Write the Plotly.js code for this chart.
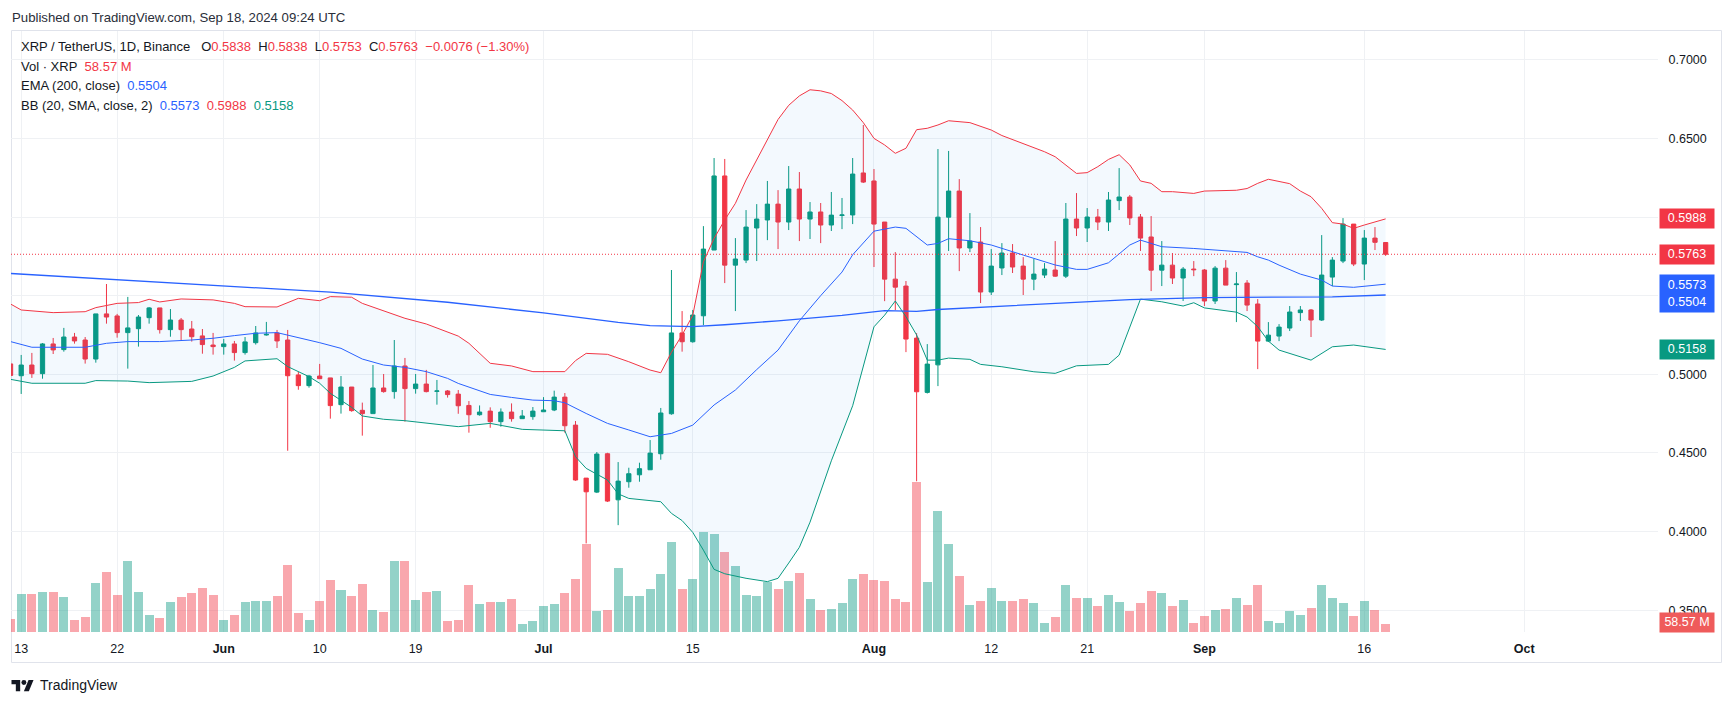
<!DOCTYPE html>
<html><head><meta charset="utf-8">
<script src="https://cdn.plot.ly/plotly-3.0.1.min.js"></script>
<style>html,body{margin:0;padding:0;background:#fff;}#chart{width:1734px;height:703px;}</style>
</head><body><div id="chart"></div>
<script>
// ---- data (XRP/USDT 1D, Binance; day 0 = 2024-05-12) ----
const startDate = '2024-05-12';
const opens = [0.5066,0.4991,0.5059,0.5004,0.5193,0.5157,0.5237,0.5218,0.5097,0.5384,
0.5371,0.5265,0.5290,0.5360,0.5422,0.5284,0.5345,0.5288,0.5244,0.5186,
0.5176,0.5193,0.5138,0.5201,0.5250,0.5263,0.5218,0.4996,0.4928,0.4989,
0.4977,0.4807,0.4919,0.4771,0.4750,0.4913,0.4890,0.5053,0.4909,0.4938,
0.4892,0.4894,0.4874,0.4802,0.4743,0.4766,0.4699,0.4760,0.4718,0.4731,
0.4762,0.4773,0.4855,0.4677,0.4340,0.4251,0.4495,0.4202,0.4317,0.4361,
0.4393,0.4495,0.4749,0.5263,0.5207,0.5372,0.5790,0.6261,0.5694,0.5726,
0.5930,0.5981,0.6082,0.5968,0.6178,0.5987,0.6032,0.5949,0.6010,0.6013,
0.6280,0.6229,0.5968,0.5605,0.5561,0.5230,0.4885,0.5060,0.5999,0.6165,
0.5803,0.5841,0.5523,0.5676,0.5771,0.5688,0.5605,0.5631,0.5663,0.5624,
0.5987,0.5930,0.6000,0.5968,0.6104,0.6127,0.6000,0.5873,0.5662,0.5694,
0.5612,0.5669,0.5663,0.5466,0.5675,0.5570,0.5580,0.5447,0.5211,0.5243,
0.5294,0.5392,0.5409,0.5345,0.5618,0.5720,0.5955,0.5701,0.5866,0.5838];
const highs = [0.5085,0.5123,0.5136,0.5199,0.5231,0.5295,0.5263,0.5237,0.5384,0.5574,
0.5384,0.5492,0.5377,0.5428,0.5422,0.5415,0.5358,0.5339,0.5288,0.5263,
0.5225,0.5212,0.5237,0.5307,0.5333,0.5282,0.5282,0.5015,0.4996,0.5066,
0.4977,0.4989,0.4919,0.4820,0.5059,0.5002,0.5218,0.5104,0.5002,0.5028,
0.4964,0.4900,0.4900,0.4830,0.4802,0.4790,0.4783,0.4815,0.4773,0.4792,
0.4855,0.4896,0.4881,0.4703,0.4340,0.4506,0.4501,0.4442,0.4406,0.4438,
0.4582,0.4786,0.5663,0.5402,0.5409,0.5942,0.6375,0.6369,0.5866,0.6044,
0.6082,0.6229,0.6171,0.6324,0.6286,0.6095,0.6089,0.6159,0.6121,0.6375,
0.6585,0.6305,0.5968,0.5777,0.5593,0.5262,0.5192,0.6432,0.6420,0.6241,
0.6025,0.5936,0.5796,0.5834,0.5828,0.5745,0.5733,0.5707,0.5847,0.6089,
0.6152,0.6057,0.6051,0.6159,0.6311,0.6140,0.6019,0.6006,0.5847,0.5771,
0.5682,0.5720,0.5669,0.5688,0.5726,0.5650,0.5599,0.5478,0.5332,0.5319,
0.5434,0.5434,0.5415,0.5885,0.5745,0.5993,0.5955,0.5917,0.5936,0.5838];
const lows = [0.4975,0.4875,0.4977,0.4972,0.5129,0.5144,0.5195,0.5068,0.5074,0.5322,
0.5233,0.5036,0.5176,0.5322,0.5259,0.5239,0.5218,0.5208,0.5131,0.5125,
0.5125,0.5087,0.5125,0.5189,0.5246,0.5167,0.4514,0.4902,0.4915,0.4970,
0.4718,0.4750,0.4762,0.4610,0.4750,0.4883,0.4845,0.4699,0.4877,0.4885,
0.4807,0.4852,0.4749,0.4629,0.4737,0.4660,0.4667,0.4699,0.4718,0.4711,
0.4762,0.4766,0.4629,0.4323,0.3925,0.4245,0.4188,0.4041,0.4279,0.4317,
0.4393,0.4457,0.4743,0.5144,0.5201,0.5313,0.5790,0.5580,0.5402,0.5707,
0.5720,0.5853,0.5796,0.5917,0.5847,0.5860,0.5834,0.5911,0.5923,0.5955,
0.6216,0.5682,0.5465,0.5408,0.5141,0.4320,0.4878,0.4925,0.5784,0.5656,
0.5777,0.5453,0.5504,0.5631,0.5644,0.5504,0.5535,0.5612,0.5620,0.5612,
0.5879,0.5841,0.5917,0.5911,0.6044,0.5949,0.5784,0.5529,0.5561,0.5574,
0.5466,0.5624,0.5434,0.5447,0.5567,0.5332,0.5402,0.5033,0.5205,0.5211,
0.5275,0.5339,0.5237,0.5339,0.5561,0.5707,0.5688,0.5599,0.5790,0.5753];
const closes = [0.4993,0.5059,0.5004,0.5193,0.5155,0.5237,0.5212,0.5097,0.5384,0.5364,
0.5265,0.5295,0.5364,0.5422,0.5284,0.5345,0.5284,0.5239,0.5189,0.5176,
0.5193,0.5138,0.5206,0.5263,0.5254,0.5212,0.4991,0.4928,0.4989,0.4972,
0.4801,0.4919,0.4769,0.4750,0.4913,0.4890,0.5053,0.4909,0.4938,0.4890,
0.4894,0.4871,0.4800,0.4743,0.4760,0.4699,0.4760,0.4718,0.4735,0.4766,
0.4773,0.4855,0.4673,0.4328,0.4253,0.4493,0.4194,0.4321,0.4368,0.4400,
0.4499,0.4754,0.5263,0.5207,0.5377,0.5796,0.6261,0.5694,0.5733,0.5936,
0.5987,0.6082,0.5968,0.6178,0.5987,0.6032,0.5949,0.6012,0.6013,0.6273,
0.6222,0.5955,0.5605,0.5554,0.5224,0.4889,0.5065,0.5999,0.6165,0.5803,
0.5847,0.5523,0.5688,0.5771,0.5682,0.5605,0.5637,0.5669,0.5624,0.5987,
0.5930,0.6000,0.5968,0.6108,0.6127,0.5994,0.5866,0.5662,0.5694,0.5612,
0.5669,0.5665,0.5466,0.5675,0.5567,0.5574,0.5440,0.5211,0.5249,0.5300,
0.5396,0.5409,0.5345,0.5631,0.5726,0.5955,0.5701,0.5866,0.5839,0.5763];
// volume in millions of XRP
const volumes = [93,276,276,291,291,254,86,108,357,437,
269,518,291,122,100,217,254,283,320,269,
86,122,217,225,225,261,488,137,86,225,
378,305,261,349,159,144,518,518,232,291,
298,78,86,342,203,217,217,239,56,78,
188,203,283,386,642,152,159,466,261,261,
313,422,657,313,386,730,715,583,481,269,
261,364,313,371,430,239,159,166,210,386,
422,378,371,239,220,1098,366,886,644,410,
198,227,322,227,227,242,212,66,110,344,
249,249,190,271,220,154,212,300,286,190,
234,66,117,161,168,249,198,344,81,66,
154,124,176,344,249,212,117,227,161,58.57];
// EMA(200) read at day indices
const emaDays = [0,18,30,41,50,57,60,64,67,72,78,82,85,87,95,105,112,120,124,129];
const emaVals = [0.5641,0.5571,0.5522,0.5458,0.5390,0.5330,0.5310,0.5303,0.5315,0.5340,0.5375,0.5405,0.5400,0.5412,0.5440,0.5475,0.5488,0.5491,0.5492,0.5504];
// Bollinger bands (20, 2)
const bbUpperDays = [0,1,4,7,8,10,12,13,14,16,19,21,22,25,27,29,30,32,33,35,37,39,41,42,43,45,47,49,52,53,54,56,58,60,61,62,63,64,65,66,67,68,69,70,71,72,73,74,75,76,77,78,79,80,81,82,83,84,85,86,87,88,90,92,93,95,97,98,99,100,101,102,103,104,105,106,107,108,109,111,112,115,116,117,118,120,121,122,123,124,125,126,127,128,129];
const bbUpperVals = [0.5447,0.5409,0.5392,0.5398,0.5424,0.5451,0.5456,0.5477,0.5460,0.5479,0.5473,0.5451,0.5430,0.5428,0.5483,0.5468,0.5494,0.5490,0.5451,0.5405,0.5356,0.5320,0.5271,0.5243,0.5197,0.5070,0.5053,0.5017,0.5017,0.5087,0.5133,0.5127,0.5080,0.5027,0.5010,0.5140,0.5250,0.5375,0.5715,0.5864,0.5981,0.6087,0.6235,0.6362,0.6489,0.6620,0.6710,0.6770,0.6809,0.6802,0.6785,0.6740,0.6680,0.6600,0.6500,0.6458,0.6405,0.6437,0.6555,0.6564,0.6585,0.6612,0.6600,0.6553,0.6518,0.6468,0.6415,0.6383,0.6331,0.6277,0.6282,0.6320,0.6366,0.6396,0.6331,0.6229,0.6214,0.6161,0.6161,0.6150,0.6165,0.6170,0.6181,0.6214,0.6240,0.6212,0.6165,0.6129,0.6055,0.5964,0.5955,0.5928,0.5949,0.5970,0.5988];
const bbMidDays = [0,2,7,9,11,14,17,19,21,23,25,27,29,31,33,35,37,39,41,42,45,47,49,51,52,54,56,58,60,62,64,66,68,70,72,74,76,78,79,81,83,84,86,87,88,90,92,95,98,100,101,103,105,106,107,108,111,114,116,117,118,119,121,123,124,126,129];
const bbMidVals = [0.5208,0.5172,0.5172,0.5197,0.5208,0.5208,0.5218,0.5229,0.5246,0.5261,0.5265,0.5235,0.5201,0.5165,0.5097,0.5059,0.5044,0.5017,0.4974,0.4942,0.4872,0.4853,0.4836,0.4832,0.4819,0.4751,0.4688,0.4646,0.4603,0.4624,0.4677,0.4805,0.4900,0.5030,0.5154,0.5340,0.5500,0.5650,0.5760,0.5910,0.5936,0.5928,0.5822,0.5832,0.5862,0.5849,0.5822,0.5758,0.5695,0.5667,0.5667,0.5709,0.5822,0.5853,0.5832,0.5811,0.5800,0.5786,0.5775,0.5747,0.5726,0.5694,0.5637,0.5599,0.5561,0.5553,0.5573];
const bbLowerDays = [0,2,7,8,11,13,17,19,21,22,25,26,28,29,30,32,33,35,37,39,41,42,45,48,52,53,54,56,57,58,61,62,63,64,65,66,67,69,71,72,73,74,75,77,79,80,81,82,83,84,85,86,87,88,90,91,93,96,98,100,103,104,105,106,108,110,111,112,115,116,117,118,119,121,122,124,126,129];
const bbLowerVals = [0.4968,0.4943,0.4943,0.4960,0.4957,0.4947,0.4955,0.4989,0.5044,0.5085,0.5099,0.5049,0.4985,0.4943,0.4879,0.4790,0.4735,0.4714,0.4705,0.4690,0.4678,0.4667,0.4688,0.4650,0.4641,0.4476,0.4402,0.4328,0.4240,0.4211,0.4190,0.4116,0.4070,0.3995,0.3882,0.3760,0.3732,0.3703,0.3682,0.3703,0.3800,0.3900,0.4060,0.4450,0.4800,0.5050,0.5302,0.5376,0.5466,0.5366,0.5250,0.5090,0.5090,0.5103,0.5095,0.5063,0.5048,0.5016,0.5006,0.5054,0.5063,0.5122,0.5300,0.5478,0.5461,0.5434,0.5455,0.5422,0.5395,0.5364,0.5303,0.5211,0.5154,0.5112,0.5090,0.5175,0.5186,0.5158];
// axis ticks
const timeTickDates = ['2024-05-13','2024-05-22','2024-06-01','2024-06-10','2024-06-19','2024-07-01','2024-07-15','2024-08-01','2024-08-12','2024-08-21','2024-09-01','2024-09-16','2024-10-01'];
const timeTickLabels = ['13','22','<b>Jun</b>','10','19','<b>Jul</b>','15','<b>Aug</b>','12','21','<b>Sep</b>','16','<b>Oct</b>'];
const priceTicks = [0.35,0.40,0.45,0.50,0.55,0.60,0.65,0.70];
// tick labels hidden behind the coloured last-value tags in the reference
const priceTickLabels = ['0.3500','0.4000','0.4500','0.5000','','','0.6500','0.7000'];

// ---- helpers ----
const W = 1734, H = 703;
const FONT = '"Liberation Sans", Arial, sans-serif';
const RED = '#F23645', GREEN = '#089981', BLUE = '#2962FF', TXT = '#131722', GRID = '#eff1f4';
const px = x => x / W, py = y => 1 - y / H;
const t0 = Date.parse(startDate + 'T00:00:00Z');
const dayStr = i => new Date(t0 + Math.round(i) * 864e5).toISOString().slice(0, 10);
const dayTime = f => new Date(t0 + f * 864e5).toISOString().replace('T', ' ').slice(0, 19);
const dates = opens.map((_, i) => dayStr(i));
const last = opens.length - 1;

const volColors = closes.map((c, i) => c >= opens[i] ? 'rgba(8,153,129,0.44)' : 'rgba(242,54,69,0.44)');

const traces = [
  {type:'bar', x:dates, y:volumes, xaxis:'x', yaxis:'y', marker:{color:volColors, line:{width:0}},
   width:0.845*864e5, hoverinfo:'skip'},
  {type:'scatter', mode:'lines', x:bbUpperDays.map(dayStr), y:bbUpperVals, xaxis:'x', yaxis:'y2',
   line:{color:RED, width:1}, hoverinfo:'skip'},
  {type:'scatter', mode:'lines', x:bbLowerDays.map(dayStr), y:bbLowerVals, xaxis:'x', yaxis:'y2',
   line:{color:GREEN, width:1}, fill:'tonexty', fillcolor:'rgba(33,150,243,0.055)', hoverinfo:'skip'},
  {type:'scatter', mode:'lines', x:bbMidDays.map(dayStr), y:bbMidVals, xaxis:'x', yaxis:'y2',
   line:{color:BLUE, width:1}, hoverinfo:'skip'},
  {type:'scatter', mode:'lines', x:emaDays.map(dayStr), y:emaVals, xaxis:'x', yaxis:'y2',
   line:{color:BLUE, width:1.3}, hoverinfo:'skip'},
  {type:'candlestick', x:dates, open:opens, high:highs, low:lows, close:closes, xaxis:'x', yaxis:'y2',
   increasing:{line:{color:GREEN, width:1}, fillcolor:GREEN},
   decreasing:{line:{color:RED, width:1}, fillcolor:RED},
   whiskerwidth:0, hoverinfo:'skip'}
];

// TradingView logo path (viewbox 36x28) mapped to paper coords
const s = 0.62, ox = 11.5, oy = 680 - 4 * s;
const P = (vx, vy) => px(ox + vx * s).toFixed(5) + ',' + py(oy + vy * s).toFixed(5);
const logoPath1 = 'M' + P(0,4) + 'L' + P(14,4) + 'L' + P(14,22) + 'L' + P(7,22) + 'L' + P(7,11) + 'L' + P(0,11) + 'Z';
const logoPath2 = 'M' + P(20,22) + 'L' + P(27.5,4) + 'L' + P(35.5,4) + 'L' + P(28,22) + 'Z';

const shapes = [
  {type:'rect', xref:'paper', yref:'paper', x0:px(11.5), x1:px(1721.5), y0:py(30.5), y1:py(662.5),
   line:{color:'#e0e3eb', width:1}, fillcolor:'rgba(0,0,0,0)', layer:'below'},
  {type:'line', xref:'x domain', yref:'y2', x0:0, x1:1, y0:closes[last], y1:closes[last],
   line:{color:RED, width:1, dash:'1px,2px'}, layer:'above'},
  {type:'path', xref:'paper', yref:'paper', path:logoPath1, fillcolor:TXT, line:{width:0}},
  {type:'path', xref:'paper', yref:'paper', path:logoPath2, fillcolor:TXT, line:{width:0}},
  {type:'circle', xref:'paper', yref:'paper', x0:px(ox+16*s), x1:px(ox+24*s), y0:py(oy+4*s), y1:py(oy+12*s),
   fillcolor:TXT, line:{width:0}}
];

const sp = t => '<span style="color:' + t[1] + '">' + t[0] + '</span>';
const nb = '\u00a0';
const f4 = v => v.toFixed(4);
const prevClose = closes[last - 1];
const chg = closes[last] - prevClose;
const sign = chg < 0 ? '\u2212' : '+';
const chgTxt = sign + Math.abs(chg).toFixed(4) + ' (' + sign + Math.abs(chg / prevClose * 100).toFixed(2) + '%)';
const legendLines = [
  'XRP / TetherUS, 1D, Binance' + nb+nb+nb + 'O' + sp([f4(opens[last]),RED]) + nb+nb + 'H' + sp([f4(highs[last]),RED]) +
    nb+nb + 'L' + sp([f4(lows[last]),RED]) + nb+nb + 'C' + sp([f4(closes[last]),RED]) + nb+nb + sp([chgTxt,RED]),
  'Vol \u00b7 XRP' + nb+nb + sp([volumes[last].toFixed(2) + ' M', RED]),
  'EMA (200, close)' + nb+nb + sp([f4(emaVals[emaVals.length-1]), BLUE]),
  'BB (20, SMA, close, 2)' + nb+nb + sp([f4(bbMidVals[bbMidVals.length-1]), BLUE]) + nb+nb +
    sp([f4(bbUpperVals[bbUpperVals.length-1]), RED]) + nb+nb + sp([f4(bbLowerVals[bbLowerVals.length-1]), GREEN])
];
const legendY = [46.7, 66.3, 86, 105.3];

const annotations = [
  {xref:'paper', yref:'paper', x:px(10), y:py(17), xanchor:'left', yanchor:'middle', showarrow:false,
   text:'Published on TradingView.com, Sep 18, 2024 09:24 UTC', font:{family:FONT, size:13.2, color:'#2a2e39'}},
  {xref:'paper', yref:'paper', x:px(38), y:py(685), xanchor:'left', yanchor:'middle', showarrow:false,
   text:'TradingView', font:{family:FONT, size:14, color:TXT}}
];
legendLines.forEach((t, k) => annotations.push({xref:'paper', yref:'paper', x:px(19), y:py(legendY[k]),
  xanchor:'left', yanchor:'middle', showarrow:false, text:t, font:{family:FONT, size:13, color:TXT}}));

function tag(text, color, yref, y, yshift, h) {
  annotations.push({xref:'paper', yref:yref, x:px(1659), y:y, xanchor:'left', yanchor:'middle', yshift:yshift||0,
    showarrow:false, text:text, bgcolor:color, borderpad:2, width:50, height:h||14.5, align:'center',
    font:{family:FONT, size:12.5, color:'#ffffff'}});
}
tag(f4(bbUpperVals[bbUpperVals.length-1]), RED, 'y2', bbUpperVals[bbUpperVals.length-1]);
tag(f4(closes[last]), RED, 'y2', closes[last]);
// BB basis and EMA labels are too close: TradingView stacks them in one blue block
tag(f4(bbMidVals[bbMidVals.length-1]) + '<br>' + f4(emaVals[emaVals.length-1]), BLUE, 'y2',
    bbMidVals[bbMidVals.length-1], -9.25, 33);
tag(f4(bbLowerVals[bbLowerVals.length-1]), GREEN, 'y2', bbLowerVals[bbLowerVals.length-1]);
tag(volumes[last].toFixed(2) + ' M', '#ef5b5b', 'y', volumes[last], 2);

const layout = {
  width:W, height:H, margin:{l:0, r:0, t:0, b:0},
  paper_bgcolor:'#ffffff', plot_bgcolor:'#ffffff', showlegend:false,
  boxgap:0.43, bargap:0,
  font:{family:FONT, size:13, color:TXT},
  xaxis:{type:'date', domain:[px(11), px(1658)], range:[dayTime(0.043), dayTime(154.55)],
    rangeslider:{visible:false}, tickmode:'array', tickvals:timeTickDates, ticktext:timeTickLabels,
    showgrid:true, gridcolor:GRID, gridwidth:1, zeroline:false, showline:false,
    ticks:'outside', ticklen:5, tickcolor:'rgba(0,0,0,0)', tickfont:{family:FONT, size:12.5, color:TXT}, fixedrange:true},
  yaxis:{domain:[py(632), py(31)], range:[0, 4400], visible:false, showgrid:false, zeroline:false, fixedrange:true},
  yaxis2:{overlaying:'y', side:'right', anchor:'x', range:[0.33617, 0.71825], tickmode:'array',
    tickvals:priceTicks, ticktext:priceTickLabels, showgrid:true, gridcolor:GRID, gridwidth:1,
    zeroline:false, showline:false, ticks:'outside', ticklen:7, tickcolor:'rgba(0,0,0,0)',
    tickfont:{family:FONT, size:12.5, color:TXT}, fixedrange:true},
  shapes:shapes, annotations:annotations
};
Plotly.newPlot('chart', traces, layout, {staticPlot:true, displayModeBar:false});
</script></body></html>
